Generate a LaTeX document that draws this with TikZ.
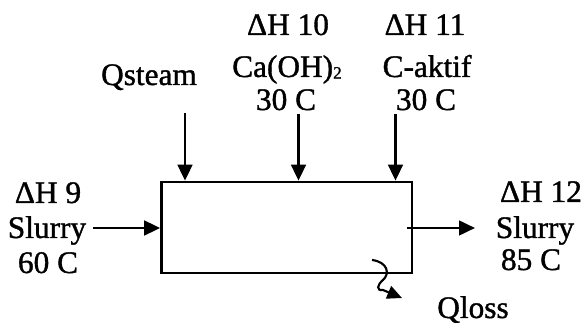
\documentclass[tikz,border=0pt]{standalone}
\usepackage{fontspec}
\setmainfont[FakeBold=1.2]{Liberation Serif}
\usetikzlibrary{arrows.meta}
\begin{document}
\begin{tikzpicture}[x=0.75pt,y=-0.75pt,
  lbl/.style={anchor=base,inner sep=0pt,font=\fontsize{23.5}{23.5}\selectfont},
  flow/.style={line width=2pt,-{Triangle[length=12pt,width=11pt]}},
  unit/.style={draw,line width=2pt,minimum width=250.5*0.75pt,minimum height=91*0.75pt,inner sep=0pt}]
\useasboundingbox (0,0) rectangle (583,323);
\node[unit] (box) at (286.75,227.5) {};
% top labels
\node[lbl] (qs) at (149,85) {Qsteam};
\node[lbl] (h10) at (288,35) {ΔH 10};
\node[lbl] (ca) at (287,77) {Ca(OH)\raisebox{-0.05em}{\fontsize{13}{13}\selectfont 2}};
\node[lbl] (t10) at (286,110) {30 C};
\node[lbl] (h11) at (425,35) {ΔH 11};
\node[lbl] (ck) at (427,77) {C-aktif};
\node[lbl] (t11) at (426,110) {30 C};
% left labels
\node[lbl] (h9) at (48,203) {ΔH 9};
\node[lbl] (s9) at (47,238) {Slurry};
\node[lbl] (t9) at (48,273) {60 C};
% right labels
\node[lbl] (h12) at (541,202) {ΔH 12};
\node[lbl] (s12) at (535,238) {Slurry};
\node[lbl] (t12) at (531,270) {85 C};
\node[lbl] (ql) at (473,318) {Qloss};
% connector end points
\coordinate (a1) at (185,113);
\coordinate (a2) at (298.5,114);
\coordinate (a3) at (395.5,114);
\coordinate (l1) at (93,228);
\coordinate (r0) at (407,228);
\coordinate (r1) at (475,228);
\coordinate (w0) at (372,260);
\coordinate (w1) at (402,298);
\draw[flow] (a1) -- (a1 |- box.north);
\draw[flow] (a2) -- (a2 |- box.north);
\draw[flow] (a3) -- (a3 |- box.north);
\draw[flow] (l1) -- (box.west |- l1);
\draw[flow] (r0) -- (r1);
\draw[line width=1.6pt,-{Triangle[length=11pt,width=10pt]}] (w0) .. controls (388,262) and (390,274) .. (383,280)
  .. controls (377,285) and (376,291) .. (383,290) -- (w1);
\end{tikzpicture}
\end{document}
